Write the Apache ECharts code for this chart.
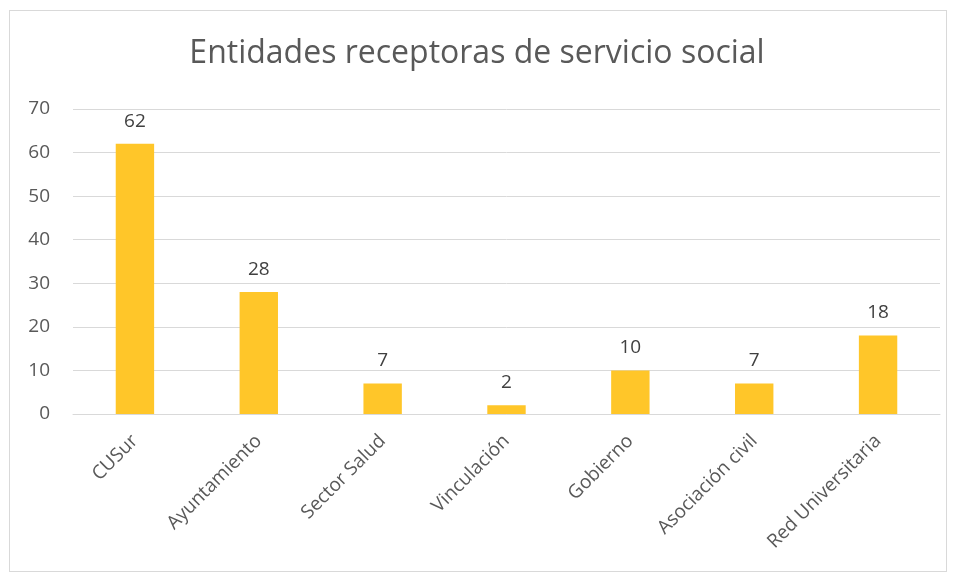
<!DOCTYPE html>
<html><head><meta charset="utf-8">
<script src="https://cdn.jsdelivr.net/npm/echarts@6/dist/echarts.min.js"></script>
<style>html,body{margin:0;padding:0;background:#fff}#c{width:954px;height:580px;position:relative}
#frame{position:absolute;left:9px;top:10px;width:938px;height:562px;border:1px solid #d9d9d9;box-sizing:border-box;pointer-events:none}</style>
</head><body><div id="c"></div><div id="frame"></div>
<script>
const titleText = 'Entidades receptoras de servicio social';
const categories = ['CUSur','Ayuntamiento','Sector Salud','Vinculación','Gobierno','Asociación civil','Red Universitaria'];
const values = [62, 28, 7, 2, 10, 7, 18];
const yTicks = {min: 0, max: 70, interval: 10};
const chart = echarts.init(document.getElementById('c'), null, {renderer:'canvas'});
const font = '"Open Sans", "Noto Sans", sans-serif';
chart.setOption({
  animation: false,
  title: {text: titleText, left: 'center', top: 33, textStyle: {fontFamily: font, fontSize: 32, fontWeight: 'normal', color: '#595959'}},
  grid: {left: 73, right: 14, top: 109, bottom: 166, containLabel: false},
  xAxis: {type: 'category', data: categories,
    axisLine: {lineStyle: {color: '#d9d9d9', width: 1}}, axisTick: {show: false},
    axisLabel: {rotate: 45, interval: 0, margin: 24, fontFamily: font, fontSize: 19, color: '#595959'}},
  yAxis: {type: 'value', min: yTicks.min, max: yTicks.max, interval: yTicks.interval,
    axisLine: {show: false}, axisTick: {show: false},
    splitLine: {lineStyle: {color: '#d9d9d9', width: 1}},
    axisLabel: {margin: 23, fontFamily: font, fontSize: 19, color: '#595959'}},
  series: [{type: 'bar', data: values, barWidth: '31%', itemStyle: {color: '#FFC629'},
    label: {show: true, position: 'top', distance: 13, fontFamily: font, fontSize: 19, color: '#404040'}}]
});
</script></body></html>
